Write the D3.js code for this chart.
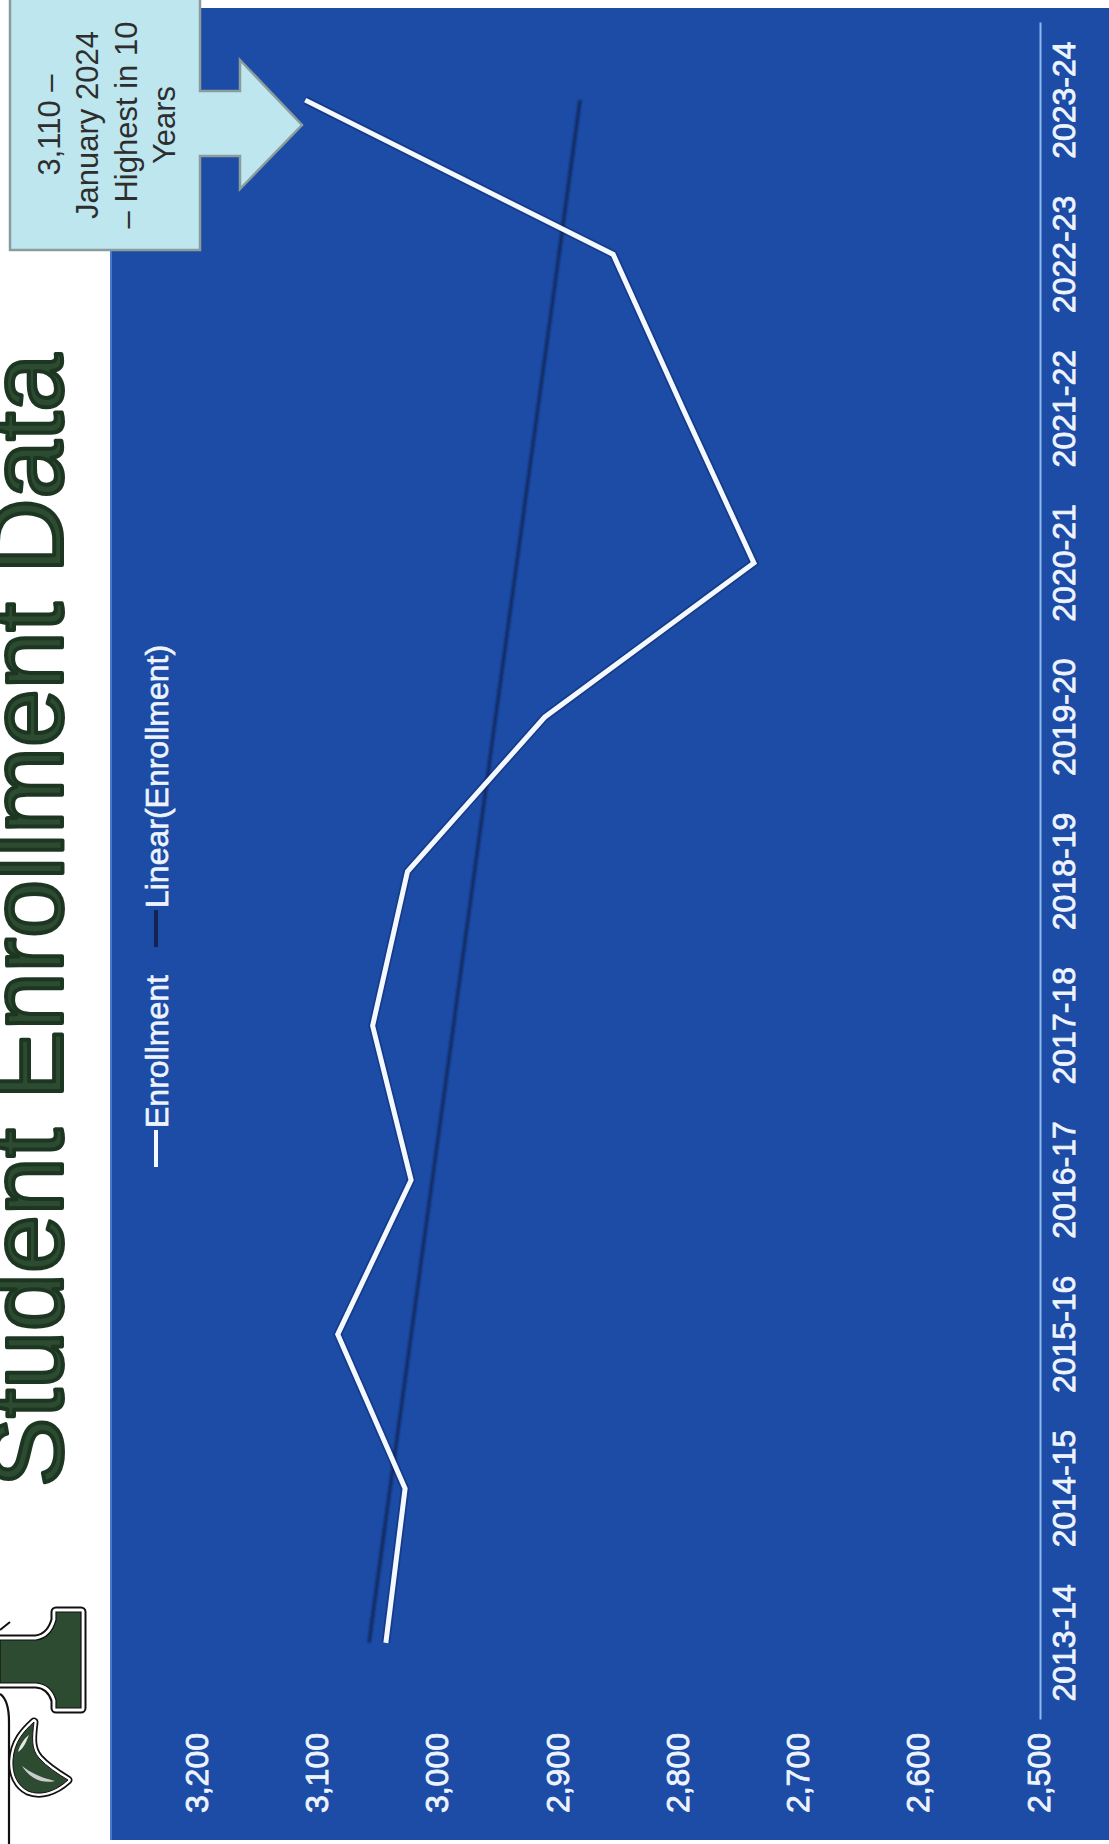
<!DOCTYPE html>
<html>
<head>
<meta charset="utf-8">
<title>Student Enrollment Data</title>
<script src="https://cdn.jsdelivr.net/npm/d3@7"></script>
<style>
  html, body { margin: 0; padding: 0; background: #ffffff; }
  svg { display: block; }
</style>
</head>
<body>
<script>
// School years on the category axis
const categories = ["2013-14", "2014-15", "2015-16", "2016-17", "2017-18", "2018-19",
                    "2019-20", "2020-21", "2021-22", "2022-23", "2023-24"];
// Total enrollment per school year
const enrollment = [3043, 3027, 3083, 3022, 3054, 3025, 2911, 2737, 2796, 2854, 3110];
// Value axis ticks
const valueTicks = [2500, 2600, 2700, 2800, 2900, 3000, 3100, 3200];
const legendLabels = ["Enrollment", "Linear(Enrollment)"];
const titleText = "Student Enrollment Data";
const calloutLines = ["3,110 \u2013", "January 2024", "\u2013 Highest in 10", "Years"];

const W = 1109, H = 1844;
const FONT = "'Liberation Sans', Arial, Helvetica, sans-serif";
const BLUE = "#1c4ca6";
const GREEN = "#2c4b31";
const LABEL = "#eef4ff";

const svg = d3.select("body").append("svg")
  .attr("width", W).attr("height", H);

const defs = svg.append("defs");
defs.append("filter").attr("id", "soft")
  .append("feGaussianBlur").attr("stdDeviation", 0.9);

svg.append("rect").attr("width", W).attr("height", H).attr("fill", "#ffffff");

// Blue chart panel
svg.append("rect")
  .attr("x", 110).attr("y", 8).attr("width", W - 110).attr("height", 1832)
  .attr("fill", BLUE);
svg.append("line")
  .attr("x1", 111).attr("x2", 111).attr("y1", 8).attr("y2", 1840)
  .attr("stroke", "#5d8ddb").attr("stroke-width", 2).attr("opacity", 0.7);

// School logo (serif letter with leaf), lower-left corner
const logo = svg.append("g");
const letterPath = "M0,1640 L36,1640 Q51,1638 56,1620 L56,1612 L81,1612 L81,1708 L56,1708 L56,1700 Q51,1684 36,1683 L0,1683 Z";
logo.append("path").attr("d", letterPath).attr("fill", "none")
  .attr("stroke", "#111").attr("stroke-width", 11).attr("stroke-linejoin", "round");
logo.append("path").attr("d", letterPath).attr("fill", "none")
  .attr("stroke", "#fff").attr("stroke-width", 7).attr("stroke-linejoin", "round");
logo.append("path").attr("d", letterPath).attr("fill", GREEN)
  .attr("stroke", "#111").attr("stroke-width", 1.2);
logo.append("path").attr("d", "M0,1694 Q9,1700 9,1722 L9,1844")
  .attr("fill", "none").attr("stroke", "#111").attr("stroke-width", 2.2);
logo.append("path").attr("d", "M0,1630 L10,1622")
  .attr("fill", "none").attr("stroke", "#111").attr("stroke-width", 2);
const leafPath = "M13,1760 C14,1742 24,1731 34,1722 C32,1738 31,1749 39,1758 C47,1767 58,1774 68,1780 C55,1792 40,1796 28,1791 C18,1786 12,1775 13,1760 Z";
logo.append("path").attr("d", leafPath).attr("fill", "none")
  .attr("stroke", "#111").attr("stroke-width", 9).attr("stroke-linejoin", "round");
logo.append("path").attr("d", leafPath).attr("fill", "none")
  .attr("stroke", "#fff").attr("stroke-width", 5.5).attr("stroke-linejoin", "round");
logo.append("path").attr("d", leafPath).attr("fill", GREEN)
  .attr("stroke", "#111").attr("stroke-width", 1);
logo.append("path").attr("d", "M22,1766 C31,1773 42,1778 55,1781 C43,1784 30,1779 22,1766 Z")
  .attr("fill", "#c9cccc");
logo.append("path").attr("d", "M18,1752 C20,1744 25,1738 29,1735 C26,1742 24,1748 18,1752 Z")
  .attr("fill", "#e8e8e8");

// Callout box with arrow pointing at the latest year
svg.append("path")
  .attr("d", "M10,-4 L200,-4 L200,91 L240,91 L240,60 L302,125 L240,189 L240,156 L200,156 L200,250 L10,250 Z")
  .attr("fill", "#bde6ee").attr("stroke", "#8a9c9c").attr("stroke-width", 2.5)
  .attr("stroke-linejoin", "miter");

// Everything below is laid out in the slide's own frame and turned a quarter turn
const g = svg.append("g").attr("transform", `translate(0,${H}) rotate(-90)`);

// Title
g.append("text")
  .attr("x", 357).attr("y", 62)
  .attr("font-family", FONT).attr("font-size", 104)
  .attr("fill", GREEN).attr("stroke", "#1d3622").attr("stroke-width", 4)
  .attr("stroke-linejoin", "round")
  .text(titleText);

// Scales
const x = d3.scaleBand().domain(categories).range([124, 1821]);
const cx = c => x(c) + x.bandwidth() / 2;
const y = d3.scaleLinear().domain([2500, 3200]).range([1039, 197]);

// Category axis
const xAxis = g.append("g")
  .attr("transform", "translate(0,1040)")
  .call(d3.axisBottom(x).tickSize(0).tickSizeOuter(0).tickPadding(12));
xAxis.select(".domain").attr("stroke", "#8dbaf0").attr("stroke-width", 2);
xAxis.selectAll("text")
  .attr("font-family", FONT).attr("font-size", 32)
  .attr("fill", LABEL).attr("stroke", LABEL).attr("stroke-width", 0.8);

// Value axis
const yAxis = g.append("g")
  .attr("transform", "translate(118,0)")
  .call(d3.axisLeft(y).tickValues(valueTicks).tickFormat(d3.format(","))
    .tickSize(0).tickPadding(7));
yAxis.select(".domain").remove();
yAxis.selectAll("text")
  .attr("font-family", FONT).attr("font-size", 32)
  .attr("fill", LABEL).attr("stroke", LABEL).attr("stroke-width", 0.8);

// Least-squares trend of enrollment over the years
const n = enrollment.length;
const xMean = d3.mean(d3.range(n));
const yMean = d3.mean(enrollment);
const sxy = d3.sum(enrollment, (v, i) => (i - xMean) * (v - yMean));
const sxx = d3.sum(d3.range(n), i => (i - xMean) ** 2);
const slope = sxy / sxx;
const intercept = yMean - slope * xMean;
const trend = [
  { c: categories[0], v: intercept },
  { c: categories[n - 1], v: intercept + slope * (n - 1) }
];

const line = d3.line().x(d => cx(d.c)).y(d => y(d.v));
const series = categories.map((c, i) => ({ c, v: enrollment[i] }));

g.append("path").datum(trend)
  .attr("d", line).attr("fill", "none")
  .attr("stroke", "#0f1d42").attr("stroke-width", 3).attr("opacity", 0.75)
  .attr("filter", "url(#soft)");

g.append("path").datum(series)
  .attr("d", line).attr("fill", "none")
  .attr("stroke", "#0a1d52").attr("stroke-width", 8.5).attr("opacity", 0.35)
  .attr("stroke-linejoin", "miter");
g.append("path").datum(series)
  .attr("d", line).attr("fill", "none")
  .attr("stroke", "#f4f8ff").attr("stroke-width", 5)
  .attr("stroke-linejoin", "miter");

// Legend
const legendColors = ["#f4f8ff", "#132352"];
let lu = 677;
legendLabels.forEach((label, i) => {
  g.append("line")
    .attr("x1", lu).attr("x2", lu + 37).attr("y1", 156).attr("y2", 156)
    .attr("stroke", legendColors[i]).attr("stroke-width", 4);
  const t = g.append("text")
    .attr("x", lu + 39).attr("y", 168)
    .attr("font-family", FONT).attr("font-size", 32)
    .attr("fill", LABEL).attr("stroke", LABEL).attr("stroke-width", 0.6)
    .text(label);
  lu = lu + 39 + t.node().getComputedTextLength() + 28;
});

// Callout text
const callout = g.append("text")
  .attr("font-family", FONT).attr("font-size", 31)
  .attr("fill", "#2e2e2e").attr("text-anchor", "middle");
calloutLines.forEach((s, i) => {
  callout.append("tspan")
    .attr("x", H - 125).attr("y", 60 + i * 38.3)
    .text(s);
});
</script>
</body>
</html>
